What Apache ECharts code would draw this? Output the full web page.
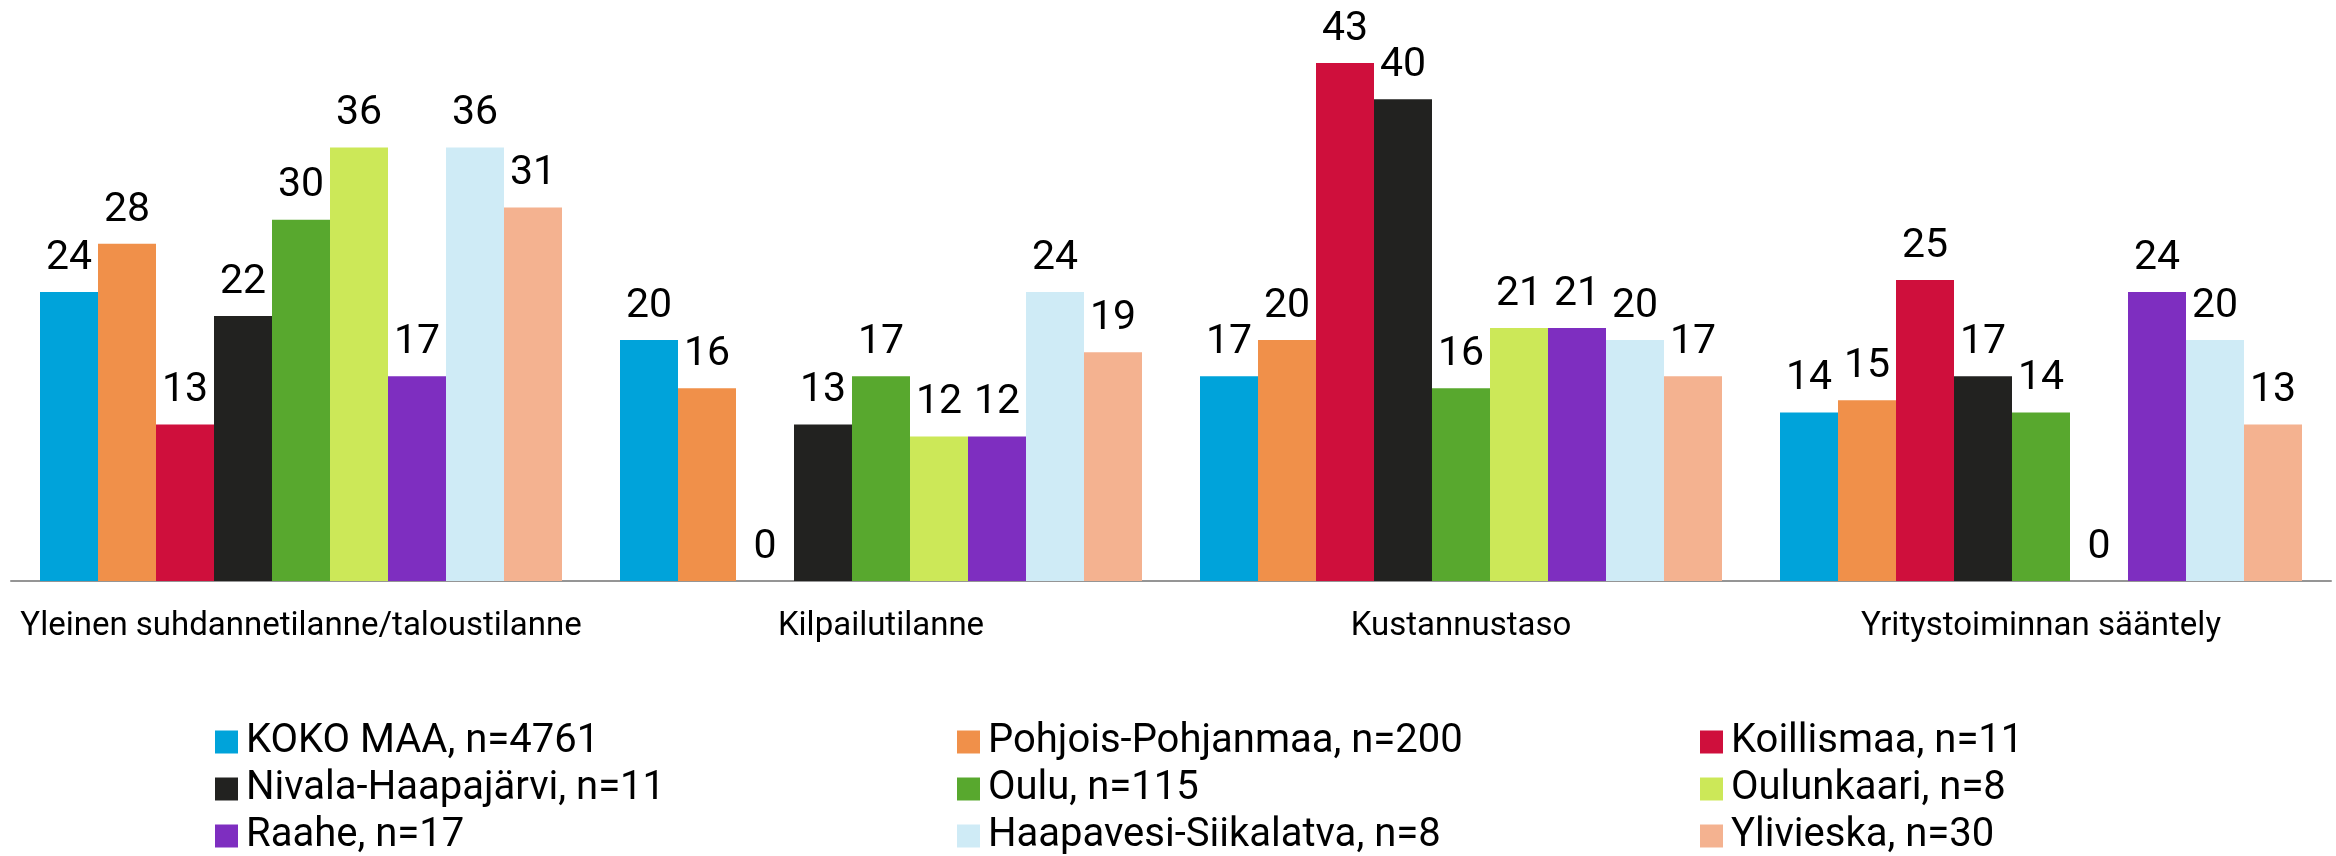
<!DOCTYPE html>
<html>
<head>
<meta charset="utf-8">
<title>Yritystoiminnan esteet</title>
<script src="https://cdn.jsdelivr.net/npm/echarts@6/dist/echarts.min.js"></script>
<style>
  html, body { margin: 0; padding: 0; background: #fff; }
  #main { width: 2336px; height: 856px; }
</style>
</head>
<body>
<div id="main"></div>
<script>
// kategoriat ja alueet
var categories = ['Yleinen suhdannetilanne/taloustilanne', 'Kilpailutilanne', 'Kustannustaso', 'Yritystoiminnan sääntely'];
var seriesNames = ['KOKO MAA, n=4761', 'Pohjois-Pohjanmaa, n=200', 'Koillismaa, n=11',
                   'Nivala-Haapajärvi, n=11', 'Oulu, n=115', 'Oulunkaari, n=8',
                   'Raahe, n=17', 'Haapavesi-Siikalatva, n=8', 'Ylivieska, n=30'];
var colors = ['#00a3da', '#f0904a', '#cf0f3c', '#222220', '#58a82e', '#cce858', '#7e2ec0', '#cfebf6', '#f4b290'];

// arvot (%), yksi taulukko per alue
var kokoMaa      = [24, 20, 17, 14];
var pohjoisPohj  = [28, 16, 20, 15];
var koillismaa   = [13, 0, 43, 25];
var nivala       = [22, 13, 40, 17];
var oulu         = [30, 17, 16, 14];
var oulunkaari   = [36, 12, 21, 0];
var raahe        = [17, 12, 21, 24];
var haapavesi    = [36, 24, 20, 20];
var ylivieska    = [31, 19, 17, 13];

var allValues = [kokoMaa, pohjoisPohj, koillismaa, nivala, oulu, oulunkaari, raahe, haapavesi, ylivieska];

var series = [];
for (var i = 0; i < seriesNames.length; i++) {
    series.push({
        name: seriesNames[i],
        type: 'bar',
        barGap: '0%',
        barCategoryGap: '10%',
        itemStyle: { color: colors[i] },
        label: {
            show: true,
            position: 'top',
            distance: 13,
            color: '#000',
            fontFamily: 'Roboto',
            fontSize: 41
        },
        data: allValues[i]
    });
}

// legenda kolmeen sarakkeeseen
function legendCol(left, names) {
    return {
        orient: 'vertical',
        left: left,
        top: 722,
        padding: 0,
        itemWidth: 23,
        itemHeight: 23,
        itemGap: 7,
        icon: 'rect',
        selectedMode: false,
        textStyle: { fontFamily: 'Roboto', fontSize: 40, lineHeight: 40, color: '#000', padding: [0, 0, 0, 3] },
        data: names
    };
}

var myChart = echarts.init(document.getElementById('main'));
var option = {
    animation: false,
    backgroundColor: '#fff',
    grid: { left: 11, right: 5, top: 39, bottom: 275 },
    legend: [
        legendCol(215, [seriesNames[0], seriesNames[3], seriesNames[6]]),
        legendCol(957, [seriesNames[1], seriesNames[4], seriesNames[7]]),
        legendCol(1700, [seriesNames[2], seriesNames[5], seriesNames[8]])
    ],
    xAxis: {
        type: 'category',
        data: categories,
        axisTick: { show: false },
        axisLine: { lineStyle: { color: '#959595', width: 2 } },
        axisLabel: { interval: 0, color: '#000', fontFamily: 'Roboto', fontSize: 33, margin: 29 }
    },
    yAxis: {
        type: 'value',
        min: 0,
        max: 45,
        show: false,
        splitLine: { show: false }
    },
    series: series
};
myChart.setOption(option);
</script>
</body>
</html>
